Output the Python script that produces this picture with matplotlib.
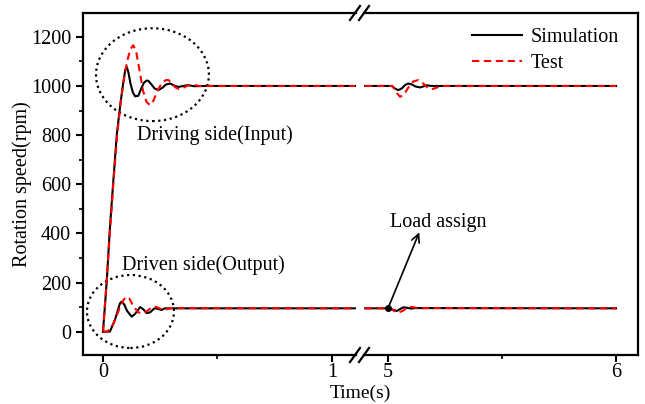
import numpy as np
import matplotlib.pyplot as plt
from matplotlib.patches import Ellipse
from matplotlib.lines import Line2D

plt.rcParams['font.family'] = ['Liberation Serif', 'DejaVu Serif']
plt.rcParams['font.size'] = 14.5

# driving side (input), start-up, 0 - 1.1 s
t_in_sim = [0, 0.016, 0.03, 0.044, 0.06, 0.075, 0.088, 0.097, 0.103, 0.11, 0.12, 0.13, 0.14,
            0.154, 0.165, 0.178, 0.19, 0.198, 0.21, 0.225, 0.242, 0.26, 0.275, 0.293, 0.31,
            0.33, 0.35, 0.37, 0.40, 0.45, 1.10]
v_in_sim = [0, 200, 420, 600, 800, 920, 1010, 1065, 1078, 1060, 1010, 975, 958,
            960, 985, 1012, 1022, 1021, 1008, 990, 983, 993, 1006, 1010, 1002,
            996, 1000, 1003, 999, 1000, 1000]
t_in_test = [0, 0.015, 0.03, 0.045, 0.062, 0.078, 0.09, 0.105, 0.12, 0.132, 0.145, 0.16, 0.175,
             0.19, 0.205, 0.22, 0.24, 0.26, 0.275, 0.286, 0.30, 0.315, 0.33, 0.35, 0.37, 0.39,
             0.42, 1.10]
v_in_test = [0, 190, 400, 600, 800, 940, 1020, 1100, 1150, 1166, 1140, 1060, 980,
             935, 922, 940, 985, 1015, 1024, 1024, 1012, 995, 988, 992, 1002, 1006,
             1000, 1000]

# driven side (output), start-up
t_out_sim = [0, 0.03, 0.052, 0.074, 0.081, 0.092, 0.105, 0.125, 0.14, 0.162, 0.175, 0.19,
             0.205, 0.225, 0.24, 0.255, 0.27, 1.10]
v_out_sim = [0, 0, 48, 115, 122, 112, 85, 61, 72, 100, 92, 76,
             78, 95, 93, 88, 95, 95]
t_out_test = [0, 0.02, 0.045, 0.07, 0.09, 0.103, 0.115, 0.135, 0.155, 0.176, 0.195, 0.21,
              0.227, 0.245, 0.263, 0.28, 0.30, 1.10]
v_out_test = [0, 0, 30, 90, 130, 142, 135, 100, 78, 75, 85, 98,
              102, 96, 88, 92, 96, 95]

# load applied at 5 s
t_in_sim2 = [4.9, 5.016, 5.03, 5.045, 5.06, 5.075, 5.089, 5.105, 5.12, 5.14, 5.155, 5.17, 5.19, 6.0]
v_in_sim2 = [1000, 1000, 990, 983, 990, 1004, 1010, 1006, 998, 994, 998, 1003, 1000, 1000]
t_in_test2 = [4.9, 5.02, 5.035, 5.053, 5.07, 5.09, 5.11, 5.133, 5.155, 5.175, 5.19, 5.21, 5.23, 6.0]
v_in_test2 = [1000, 1000, 975, 956, 965, 995, 1018, 1024, 1010, 992, 986, 992, 1000, 1000]
t_out_sim2 = [4.9, 5.006, 5.02, 5.038, 5.055, 5.067, 5.085, 5.1, 5.12, 6.0]
v_out_sim2 = [95, 95, 90, 84, 93, 99, 97, 94, 96, 95]
t_out_test2 = [4.9, 5.01, 5.028, 5.045, 5.065, 5.085, 5.1, 5.12, 5.14, 5.16, 6.0]
v_out_test2 = [95, 95, 84, 77, 85, 97, 101, 98, 94, 96, 95]

load_t, load_v = 5.0, 95

W, H = 645, 404
fig = plt.figure(figsize=(W / 100, H / 100), dpi=100)
bot, top = 1 - 355 / H, 1 - 13 / H
ax1 = fig.add_axes([83 / W, bot, (356 - 83) / W, top - bot])
ax2 = fig.add_axes([364 / W, bot, (638 - 364) / W, top - bot])

dash = (0, (3.5, 2.2))
for ax, curves in [(ax1, [(t_in_sim, v_in_sim, t_in_test, v_in_test),
                          (t_out_sim, v_out_sim, t_out_test, v_out_test)]),
                   (ax2, [(t_in_sim2, v_in_sim2, t_in_test2, v_in_test2),
                          (t_out_sim2, v_out_sim2, t_out_test2, v_out_test2)])]:
    for ts, vs, tt, vt in curves:
        ax.plot(ts, vs, color='black', lw=1.5, label='Simulation')
        ax.plot(tt, vt, color='red', lw=1.5, ls=dash, label='Test')
    ax.set_ylim(-95, 1297)
    for s in ax.spines.values():
        s.set_linewidth(1.6)
    ax.tick_params(which='major', direction='out', length=5, width=1.5, labelsize=14.5)
    ax.tick_params(which='minor', direction='out', length=3, width=1.2)
    ax.tick_params(axis='x', pad=1)

ax1.set_xlim(-0.0873, 1.1048)
ax2.set_xlim(4.8947, 6.0965)
ax1.set_xticks([0, 1])
ax1.set_xticks([0.5], minor=True)
ax2.set_xticks([5, 6])
ax2.set_xticks([5.5], minor=True)
ax1.set_yticks(np.arange(0, 1201, 200))
ax1.set_yticks(np.arange(100, 1201, 200), minor=True)
ax1.spines['right'].set_visible(False)
ax2.spines['left'].set_visible(False)
ax2.tick_params(axis='y', which='both', left=False, labelleft=False)
ax1.set_ylabel('Rotation speed(rpm)', fontsize=14.5, labelpad=-1)

# dotted rings around the transients
ax1.add_patch(Ellipse((0.216, 1046), 0.493, 378, fill=False, ls=(0, (1, 1.6)), lw=1.6, color='black'))
ax1.add_patch(Ellipse((0.120, 82), 0.380, 297, fill=False, ls=(0, (1, 1.6)), lw=1.6, color='black'))
ax1.text(0.148, 800, 'Driving side(Input)', va='center', ha='left')
ax1.text(0.082, 271, 'Driven side(Output)', va='center', ha='left')

ax2.plot([load_t], [load_v], 'o', color='black', ms=4, zorder=5)
ax2.annotate('', xy=(5.137, 404), xytext=(load_t, load_v),
             arrowprops=dict(arrowstyle='->', color='black', lw=1.2, shrinkA=0, shrinkB=0))
ax2.text(5.22, 445, 'Load assign', ha='center', va='center')

h, l = ax2.get_legend_handles_labels()
ax2.legend(h[:2], l[:2], loc='upper right', bbox_to_anchor=(0.995, 1.01), frameon=False,
           fontsize=14.5, handlelength=2.5, handletextpad=0.4, labelspacing=0.35)

fig.text(360 / W, 2 / H, 'Time(s)', ha='center', va='bottom', fontsize=14)

# axis break marks
for yb in (bot, top):
    for xb in (355, 364):
        fig.add_artist(Line2D([(xb - 5) / W, (xb + 5) / W],
                              [yb - 7 / H, yb + 7 / H], color='black', lw=1.6))

fig.savefig('out.png', dpi=100)
